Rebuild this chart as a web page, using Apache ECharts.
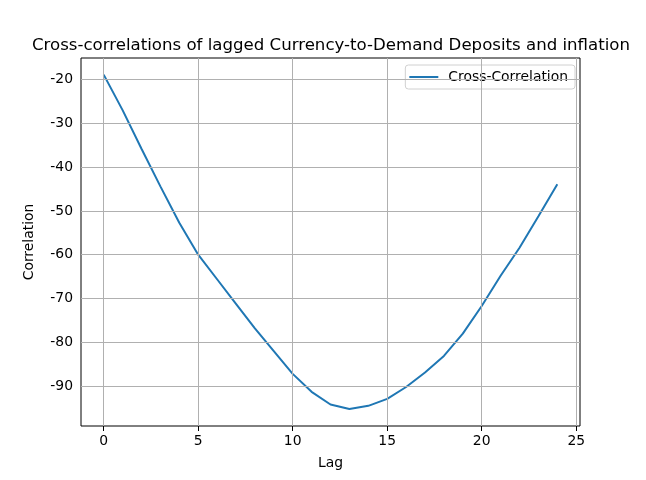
<!DOCTYPE html>
<html><head><meta charset="utf-8">
<script src="https://cdn.jsdelivr.net/npm/echarts@6/dist/echarts.min.js"></script>
<style>html,body{margin:0;padding:0;background:#fff}#c{width:646px;height:480px}</style>
</head><body><div id="c"></div>
<script>
const lags = [0,1,2,3,4,5,6,7,8,9,10,11,12,13,14,15,16,17,18,19,20,21,22,23,24];
const crossCorr = [-18.9,-27,-35.8,-44.4,-52.7,-60,-65.6,-71.2,-76.8,-82,-87.2,-91.3,-94.2,-95.2,-94.5,-92.9,-90.2,-86.9,-83.1,-78,-71.7,-64.8,-58.4,-51.2,-43.9];
const xTicks = [0,5,10,15,20,25];
const yTicks = [-90,-80,-70,-60,-50,-40,-30,-20];
const font = 'DejaVu Sans';
const gridLines = xTicks.map(v => ({xAxis: v})).concat(yTicks.map(v => ({yAxis: v})));
const chart = echarts.init(document.getElementById('c'));
chart.setOption({
  animation: false,
  title: {text: 'Cross-correlations of lagged Currency-to-Demand Deposits and inflation', left: 326, top: 32, textAlign: 'center',
    textStyle: {fontFamily: font, fontSize: 16.6, fontWeight: 'normal', color: '#000'}},
  legend: {right: 71, top: 65, orient: 'vertical', itemWidth: 29, itemHeight: 2, icon: 'rect', itemGap: 10,
    backgroundColor: 'rgba(255,255,255,0.8)', borderColor: '#d0d0d0', borderWidth: 1, borderRadius: 3,
    padding: [5, 7, 5, 4], textStyle: {fontFamily: font, fontSize: 13.9, color: '#000', padding: [0, 0, 0, 5]}},
  grid: {left: 81, right: 66, top: 58, bottom: 54, show: true, borderColor: '#000', borderWidth: 1},
  xAxis: {type: 'value', min: -1.2, max: 25.2, name: 'Lag', nameLocation: 'middle', nameGap: 30,
    nameTextStyle: {fontFamily: font, fontSize: 13.9, color: '#000'},
    axisLine: {show: false}, splitLine: {show: false},
    axisTick: {show: true, customValues: xTicks, length: 5, lineStyle: {color: '#000'}},
    axisLabel: {customValues: xTicks, fontFamily: font, fontSize: 13.9, color: '#000', margin: 8}},
  yAxis: {type: 'value', min: -99.1, max: -15.1, name: 'Correlation', nameLocation: 'middle', nameGap: 45, nameRotate: 90,
    nameTextStyle: {fontFamily: font, fontSize: 13.9, color: '#000'},
    axisLine: {show: false}, splitLine: {show: false},
    axisTick: {show: true, customValues: yTicks, length: 5, lineStyle: {color: '#000'}},
    axisLabel: {customValues: yTicks, fontFamily: font, fontSize: 13.9, color: '#000', margin: 8}},
  series: [{
    name: 'Cross-Correlation', type: 'line', data: lags.map((l, i) => [l, crossCorr[i]]),
    showSymbol: false, symbol: 'none', lineStyle: {color: '#1f77b4', width: 2}, itemStyle: {color: '#1f77b4'},
    z: 3,
    markLine: {silent: true, symbol: ['none', 'none'], label: {show: false}, animation: false,
      lineStyle: {color: '#b0b0b0', width: 1, type: 'solid'}, emphasis: {disabled: true}, data: gridLines}
  }]
});
</script></body></html>
